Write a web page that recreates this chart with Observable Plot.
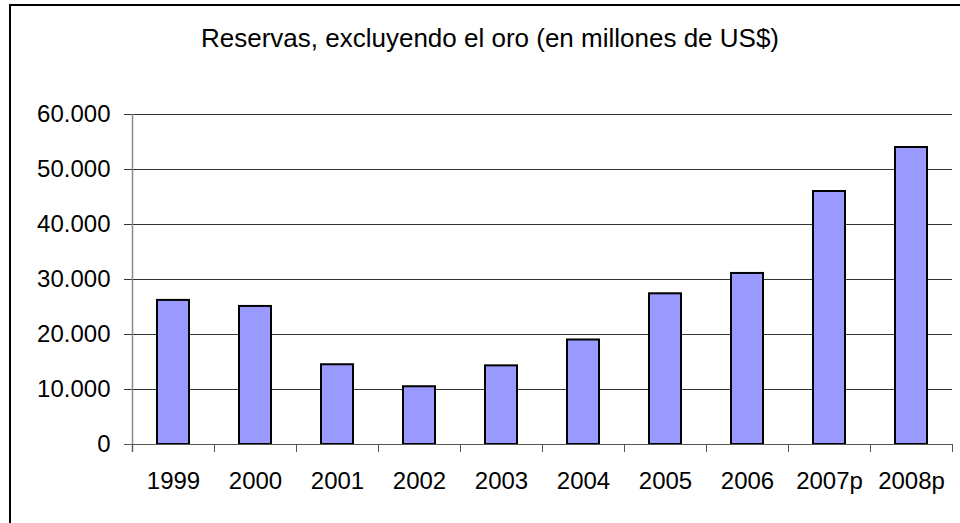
<!DOCTYPE html>
<html>
<head>
<meta charset="utf-8">
<script src="https://cdn.jsdelivr.net/npm/d3@7"></script>
<script src="https://cdn.jsdelivr.net/npm/@observablehq/plot@0.6"></script>
<style>
  html, body { margin: 0; padding: 0; background: #fff; }
  #wrap { position: relative; width: 960px; height: 523px; overflow: hidden; font-family: "Liberation Sans", Arial, sans-serif; background: #fff; }
  #border { position: absolute; left: 9px; top: 4px; width: 1000px; height: 530px; border-left: 2px solid #000; border-top: 2px solid #000; z-index: 2; pointer-events: none; }
  #title { position: absolute; left: 0; top: 25px; width: 980px; text-align: center; font-size: 26px; line-height: 1; color: #000; }
  #chart { position: absolute; left: 0; top: 70px; }
</style>
</head>
<body>
<div id="wrap">
  <div id="border"></div>
  <div id="title">Reservas, excluyendo el oro (en millones de US$)</div>
  <div id="chart"></div>
</div>
<script>
const years = ["1999", "2000", "2001", "2002", "2003", "2004", "2005", "2006", "2007p", "2008p"];
const reserves = [26200, 25100, 14500, 10500, 14300, 19000, 27400, 31100, 46000, 54000];
const yTicks = [0, 10000, 20000, 30000, 40000, 50000, 60000];

const data = years.map((y, i) => ({year: y, value: reserves[i]}));
const fmt = d3.formatLocale({decimal: ",", thousands: ".", grouping: [3], currency: ["", ""]}).format(",d");

const W = 960, H = 453, mL = 132, mR = 8;
const band = (W - mL - mR) / years.length;

const chart = Plot.plot({
  width: W,
  height: H,
  marginLeft: mL,
  marginRight: mR,
  marginTop: 44,
  marginBottom: 79,
  style: {fontFamily: "Liberation Sans, Arial, sans-serif", background: "transparent", color: "#000"},
  x: {type: "band", domain: years, padding: 0, axis: null, label: null},
  y: {domain: [0, 60000], axis: null, label: null},
  marks: [
    Plot.gridY(yTicks, {stroke: "#333", strokeOpacity: 1, strokeWidth: 1}),
    Plot.axisY(yTicks, {tickSize: 8, tickPadding: 14, fontSize: 24, tickFormat: fmt, stroke: "#333", label: null}),
    Plot.ruleX([years[0]], {x: d => d, dx: -band / 2, y1: 60000, y2: 0, insetBottom: -8, stroke: "#888", strokeWidth: 1.5}),
    Plot.ruleX(years, {x: d => d, dx: -band / 2, y1: 0, y2: 0, insetBottom: -8, stroke: "#555"}),
    Plot.ruleX([years[years.length - 1]], {x: d => d, dx: band / 2, y1: 0, y2: 0, insetBottom: -8, stroke: "#555"}),
    Plot.barY(data, {x: "year", y: "value", fill: "#9999FF", stroke: "#000", strokeWidth: 2, insetLeft: 25, insetRight: 25}),
    Plot.ruleY([0], {stroke: "#555", insetLeft: -8}),
    Plot.axisX({tickSize: 0, tickPadding: 27, fontSize: 24, label: null})
  ]
});
document.getElementById("chart").appendChild(chart);
</script>
</body>
</html>
